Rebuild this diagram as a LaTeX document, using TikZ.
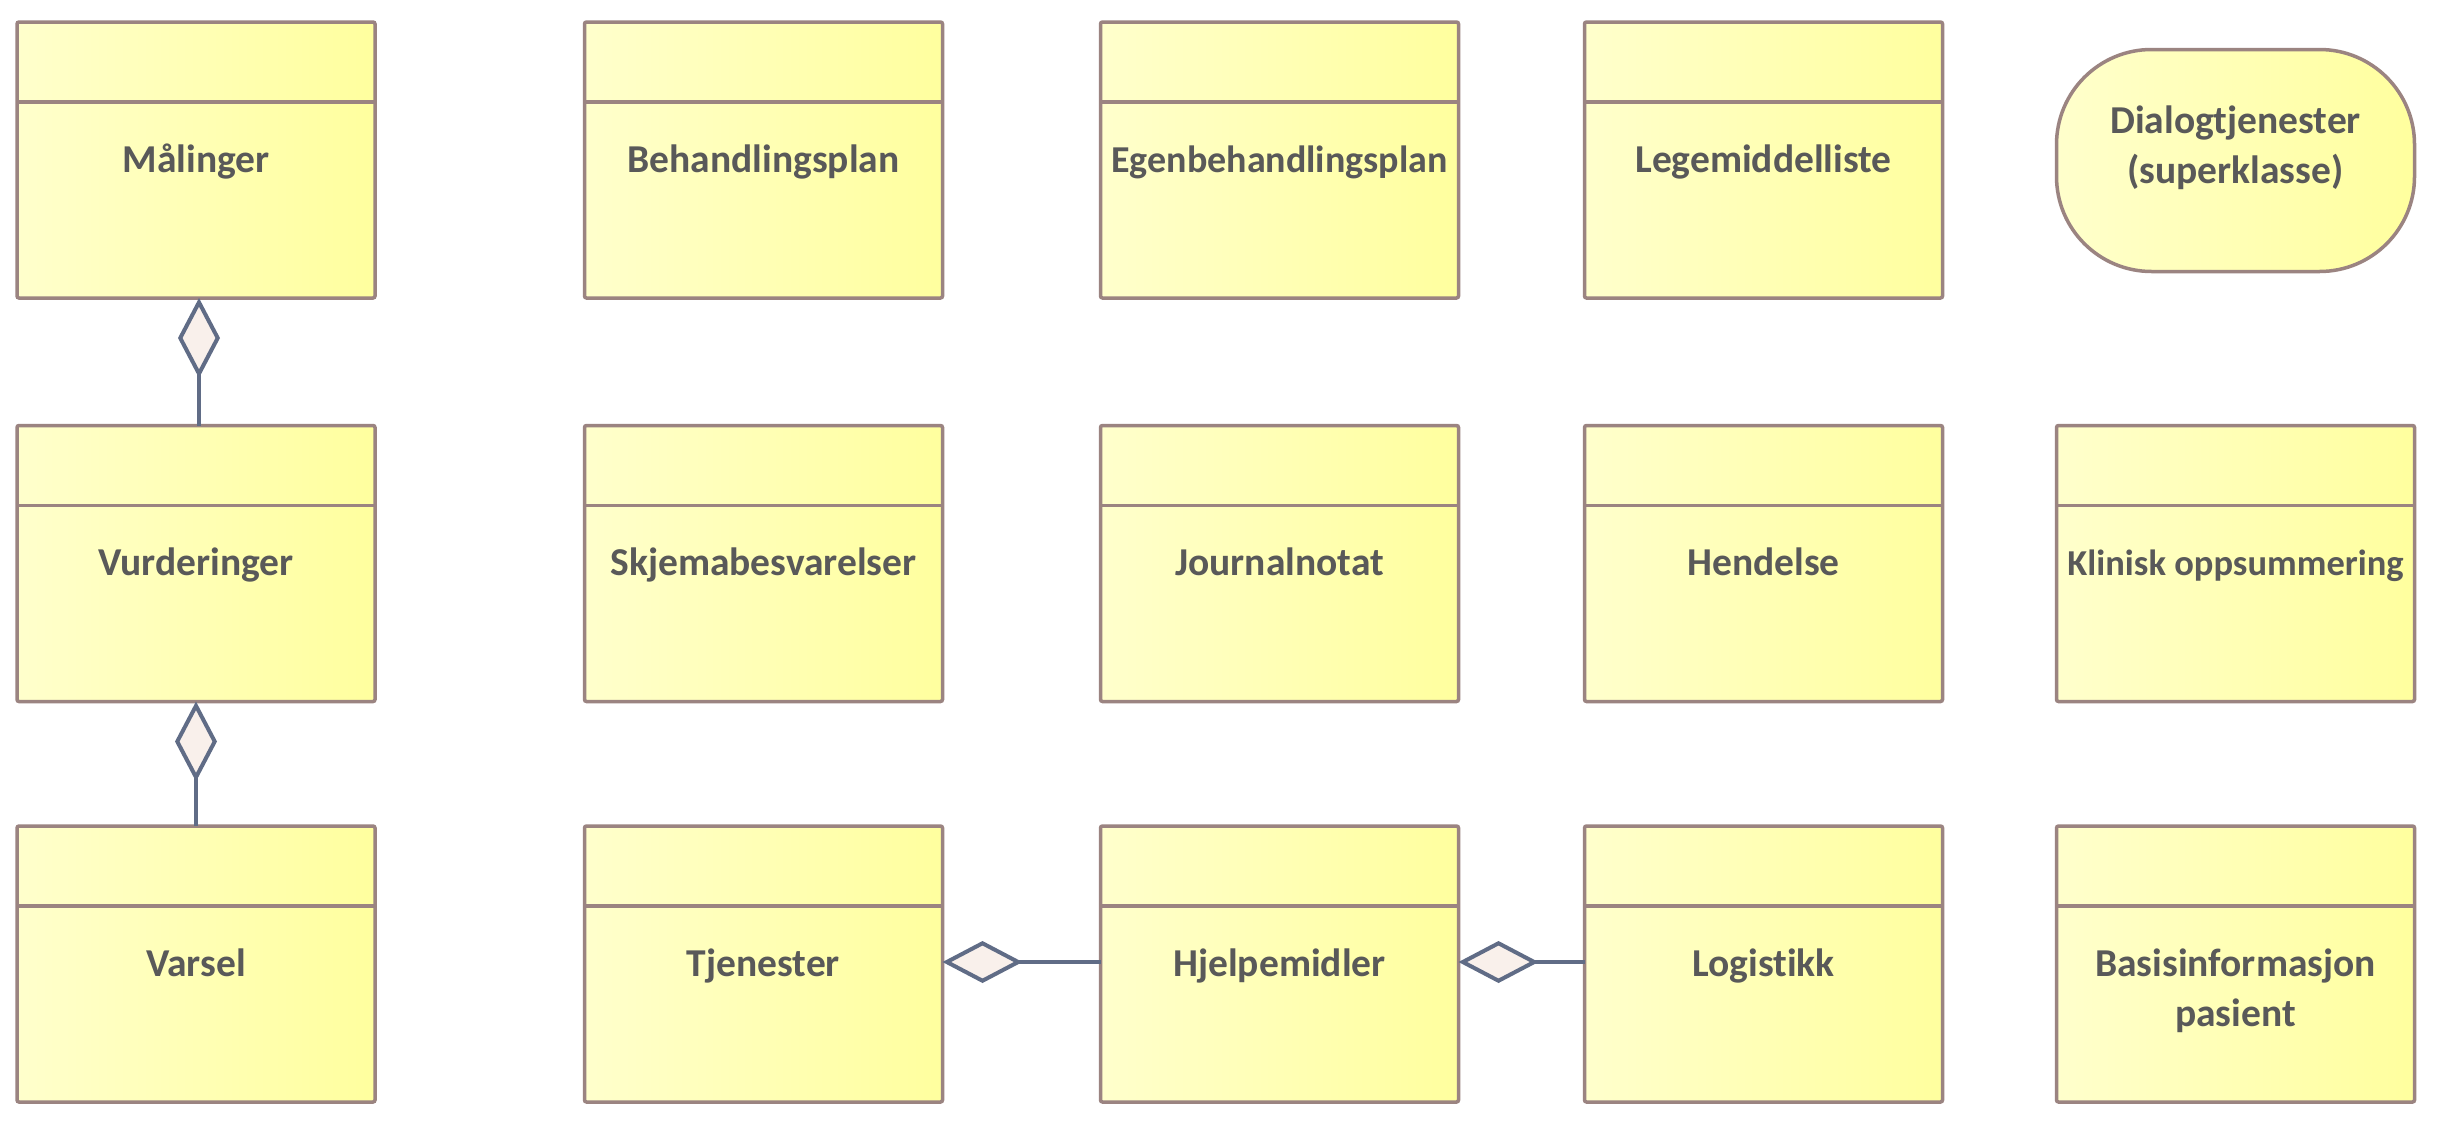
\documentclass[tikz,border=0pt]{standalone}
\usepackage{fontspec}
\setmainfont{Carlito}[Ligatures=NoCommon]
\usetikzlibrary{arrows.meta}
\definecolor{bordercol}{RGB}{155,132,129}
\definecolor{linkcol}{RGB}{96,108,134}
\definecolor{dfill}{RGB}{249,240,235}
\definecolor{txtcol}{RGB}{89,89,89}
\definecolor{fillL}{RGB}{255,255,204}
\definecolor{fillR}{RGB}{255,255,158}
\newcommand\classbx[4]{%
  \node[classbox] (#1) at (#2,#3) {};
  \draw[bordercol, line width=3.5pt] ([yshift=-80pt]#1.north west) -- ([yshift=-80pt]#1.north east);
  \node[classtext, anchor=base] (#1-t) at ([yshift=-150pt]#1.north) {#4};
}
\begin{document}
\begin{tikzpicture}[x=1pt,y=-1pt,
  classbox/.style={draw=bordercol, line width=3.5pt, rounded corners=2pt,
    minimum width=358pt, minimum height=276pt, left color=fillL, right color=fillR,
    inner sep=0pt, outer sep=0pt},
  classtext/.style={text=txtcol, font=\fontsize{39.5}{50}\selectfont\bfseries,
    inner sep=0pt, align=center},
  aggr/.style={draw=linkcol, line width=4pt, line join=miter,
    -{Diamond[length=80pt,width=42pt,fill=dfill]}},
]
\fill[white] (0,0) rectangle (2449,1122);
\useasboundingbox (0,0) rectangle (2449,1122);

% row 1
\classbx{mal}{196}{160}{Målinger}
\classbx{beh}{763.5}{160}{Behandlingsplan}
\classbx{egen}{1279.5}{160}{\fontsize{38}{50}\selectfont Egenbehandlingsplan}
\classbx{leg}{1763.5}{160}{Legemiddelliste}
\node[classbox, rounded corners=95pt, minimum height=222pt] (dia) at (2235.5,160.5) {};
\node[classtext, anchor=base] (dia-t) at (2235.5,183) {Dialogtjenester\\(superklasse)};

% row 2
\classbx{vur}{196}{563.5}{Vurderinger}
\classbx{skj}{763.5}{563.5}{Skjemabesvarelser}
\classbx{jou}{1279.5}{563.5}{Journalnotat}
\classbx{hen}{1763.5}{563.5}{Hendelse}
\classbx{kli}{2235.5}{563.5}{\fontsize{36.5}{50}\selectfont Klinisk oppsummering}

% row 3
\classbx{var}{196}{964}{Varsel}
\classbx{tje}{763.5}{964}{Tjenester}
\classbx{hje}{1279.5}{964}{Hjelpemidler}
\classbx{log}{1763.5}{964}{Logistikk}
\node[classbox] (bas) at (2235.5,964) {};
\draw[bordercol, line width=3.5pt] ([yshift=-80pt]bas.north west) -- ([yshift=-80pt]bas.north east);
\node[classtext, anchor=base] (bas-t) at ([yshift=-200pt]bas.north) {Basisinformasjon\\pasient};

% connectors
\draw[aggr] ([xshift=3pt]vur.north) -- ([xshift=3pt]mal.south);
\draw[aggr] (var.north) -- (vur.south);
\draw[aggr] ([yshift=2pt]hje.west) -- ([yshift=2pt]tje.east);
\draw[aggr] ([yshift=2pt]log.west) -- ([yshift=2pt]hje.east);
\end{tikzpicture}
\end{document}
